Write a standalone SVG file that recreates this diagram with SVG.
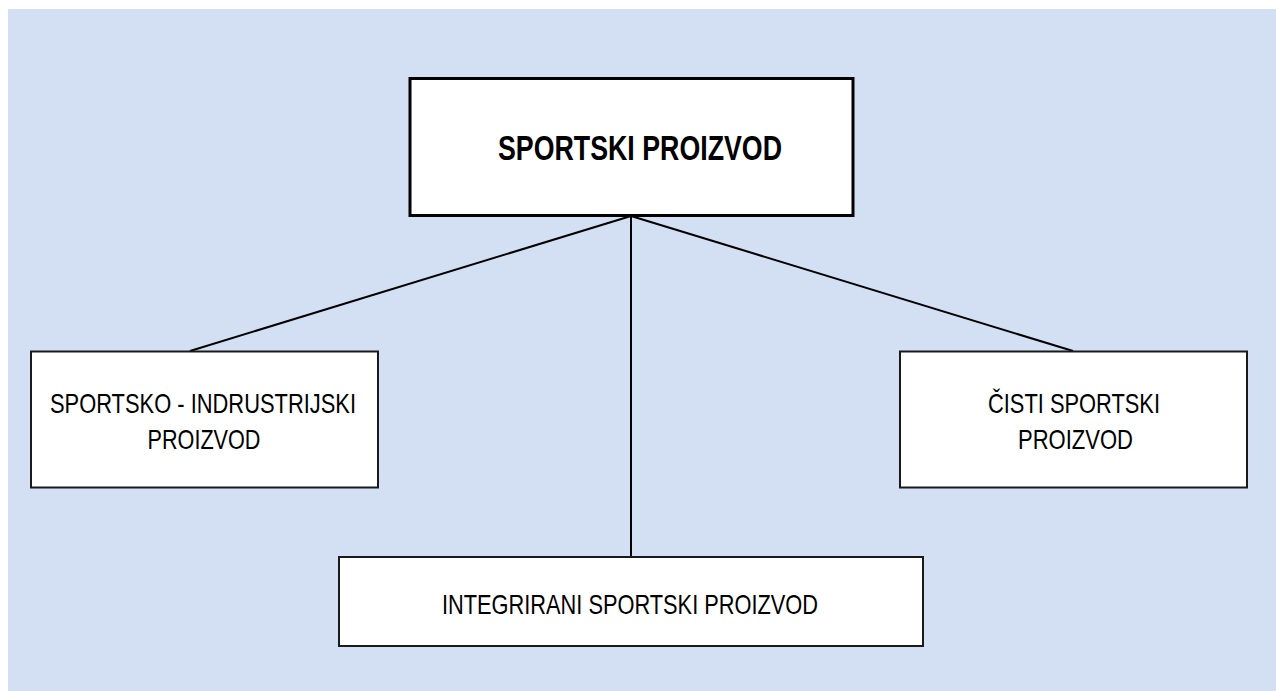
<svg xmlns="http://www.w3.org/2000/svg" width="1276" height="691" viewBox="0 0 1276 691">
<style>
.box{fill:#ffffff;stroke:#1a1a1a;stroke-width:2}
.main{fill:#ffffff;stroke:#000000;stroke-width:3}
.t{font-family:"Liberation Sans",Arial,sans-serif;font-size:28.5px;fill:#000;text-anchor:middle}
.tb{font-family:"Liberation Sans",Arial,sans-serif;font-size:35px;font-weight:bold;fill:#000;text-anchor:middle}
.c{stroke:#000;stroke-width:2;fill:none}
</style>
<rect x="0" y="0" width="1276" height="691" fill="#ffffff"/>
<rect x="8" y="9" width="1268" height="682" fill="#D3E0F3"/>
<g id="connectors">
<line class="c" x1="631" y1="216" x2="190" y2="351"/>
<line class="c" x1="631" y1="216" x2="1073" y2="351"/>
<line class="c" x1="631" y1="216" x2="631" y2="557"/>
</g>
<g id="node-main">
<rect class="main" x="410" y="78.5" width="443" height="137"/>
<text class="tb" x="640" y="160" textLength="284" lengthAdjust="spacingAndGlyphs">SPORTSKI PROIZVOD</text>
</g>
<g id="node-left">
<rect class="box" x="31" y="351.5" width="347" height="136"/>
<text class="t" x="203" y="412.5" textLength="306" lengthAdjust="spacingAndGlyphs">SPORTSKO - INDRUSTRIJSKI</text>
<text class="t" x="204" y="449" textLength="113" lengthAdjust="spacingAndGlyphs">PROIZVOD</text>
</g>
<g id="node-right">
<rect class="box" x="900" y="351.5" width="347" height="136"/>
<text class="t" x="1074" y="412.5" textLength="172" lengthAdjust="spacingAndGlyphs">ČISTI SPORTSKI</text>
<text class="t" x="1075.5" y="449" textLength="115" lengthAdjust="spacingAndGlyphs">PROIZVOD</text>
</g>
<g id="node-bottom">
<rect class="box" x="339" y="557" width="584" height="89"/>
<text class="t" x="630" y="614.3" textLength="376" lengthAdjust="spacingAndGlyphs">INTEGRIRANI SPORTSKI PROIZVOD</text>
</g>
</svg>
